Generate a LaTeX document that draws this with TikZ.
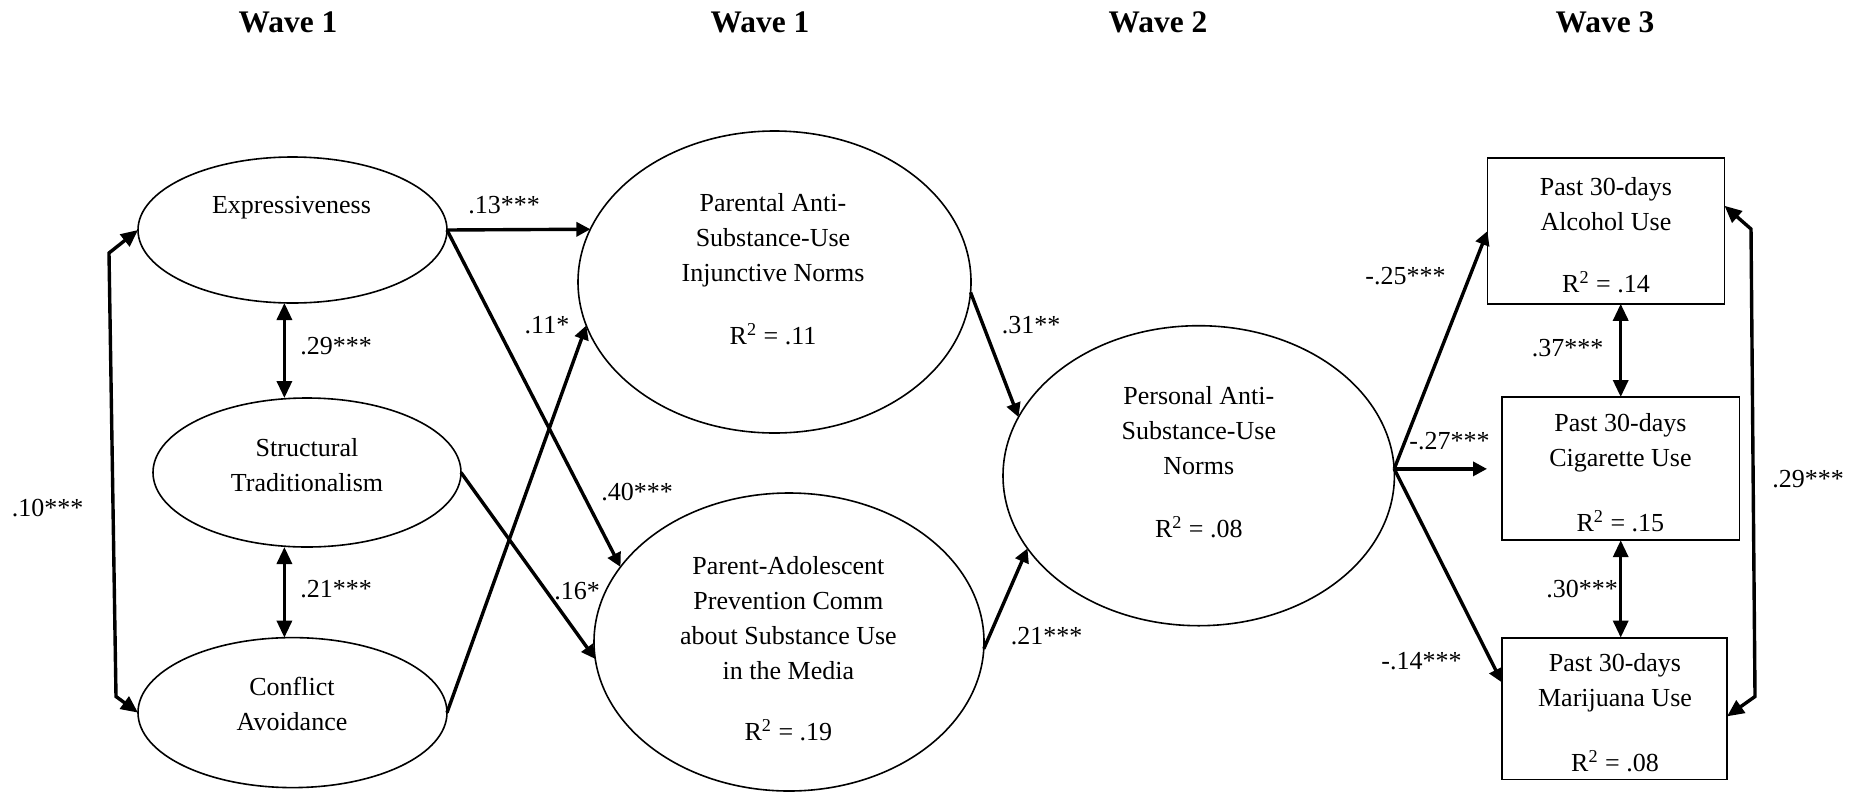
\documentclass[tikz,border=0pt]{standalone}
\usepackage{fontspec}
\setmainfont{Liberation Serif}
\usetikzlibrary{arrows.meta,shapes.geometric,calc}
\begin{document}
\begin{tikzpicture}[x=0.5pt,y=-0.5pt,
  lat/.style={draw, ellipse, line width=0.8pt, inner sep=0pt, outer sep=0pt},
  obs/.style={draw, rectangle, line width=0.9pt, inner sep=0pt, outer sep=0pt},
  txt/.style={font=\fontsize{13}{17.5}\selectfont, align=center, inner sep=0pt},
  lab/.style={font=\fontsize{13}{15}\selectfont, inner sep=0pt},
  wave/.style={font=\fontsize{15.7}{18}\selectfont\bfseries, inner sep=0pt},
  path/.style={line width=1.7pt, -{Triangle[length=7pt,width=7pt]}},
  cov/.style={line width=1.7pt, {Triangle[length=8.5pt,width=7.5pt]}-{Triangle[length=8.5pt,width=7.5pt]}}]
\useasboundingbox (0,0) rectangle (1862,793);

% titles
\node[wave] (w1) at (288,22.6) {Wave 1};
\node[wave] (w2) at (760,22.6) {Wave 1};
\node[wave] (w3) at (1158,22.6) {Wave 2};
\node[wave] (w4) at (1605,22.6) {Wave 3};

% latent variables
\node[lat, minimum width=154.5pt, minimum height=73pt] (E) at (292.5,230) {};
\node[lat, minimum width=154pt, minimum height=74.5pt] (S) at (307,472.5) {};
\node[lat, minimum width=154.5pt, minimum height=75pt] (C) at (292.5,712.6) {};
\node[lat, minimum width=196.5pt, minimum height=151pt] (PI) at (774.5,282) {};
\node[lat, minimum width=195pt, minimum height=149pt] (PC) at (789,642) {};
\node[lat, minimum width=195.7pt, minimum height=150pt] (PN) at (1198.7,475.7) {};

% observed variables
\node[obs, minimum width=118.5pt, minimum height=72.8pt] (A) at (1606,231) {};
\node[obs, minimum width=118.7pt, minimum height=71.6pt] (G) at (1620.7,468.6) {};
\node[obs, minimum width=112.5pt, minimum height=70.9pt] (M) at (1614.5,708.5) {};

% texts
\node[txt] (Et) at (291.5,208) {Expressiveness};
\node[txt] (St) at (307,465) {Structural\\Traditionalism};
\node[txt] (Ct) at (292,704) {Conflict\\Avoidance};
\node[txt] (PIt) at (773,240) {Parental Anti-\\Substance-Use\\Injunctive Norms};
\node[txt] (PIr) at (773,334) {R\textsuperscript{2} = .11};
\node[txt] (PCt) at (788.4,618) {Parent-Adolescent\\Prevention Comm\\about Substance Use\\in the Media};
\node[txt] (PCr) at (788.4,730) {R\textsuperscript{2} = .19};
\node[txt] (PNt) at (1198.8,431) {Personal Anti-\\Substance-Use\\Norms};
\node[txt] (PNr) at (1198.8,527) {R\textsuperscript{2} = .08};
\node[txt] (At) at (1606,204) {Past 30-days\\Alcohol Use};
\node[txt] (Ar) at (1606,282) {R\textsuperscript{2} = .14};
\node[txt] (Gt) at (1620.4,443) {Past 30-days\\Cigarette Use};
\node[txt] (Gr) at (1620.4,521) {R\textsuperscript{2} = .15};
\node[txt] (Mt) at (1615,683) {Past 30-days\\Marijuana Use};
\node[txt] (Mr) at (1615,761) {R\textsuperscript{2} = .08};

% helper coordinates
\coordinate (lx) at (284.4,0);
\coordinate (lt) at (109,253);
\coordinate (lb) at (116,696.5);
\coordinate (rt) at (1751,229);
\coordinate (rb) at (1755,696.5);

% covariances, left
\draw[cov] (E.west) -- (lt) -- (lb) -- (C.west);
\draw[cov] (E.south -| lx) -- (S.north -| lx);
\draw[cov] (S.south -| lx) -- (C.north -| lx);

% paths wave 1
\draw[path] (E.east) -- (PI.164.3);
\draw[path] (E.east) -- (PC.156.4);
\draw[path] (S.east) -- (PC.185);
\draw[path] (C.east) -- (PI.193);

% paths to wave 2
\draw[path] (PI.-3.5) -- (PN.162.4);
\draw[path] (PC.-2) -- (PN.203.3);

% paths to wave 3
\draw[path] (PN.2) -- (A.west);
\draw[path] (PN.2) -- ($(PN.2 -| G.west)+(-15,0)$);
\draw[path] (PN.2) -- (M.167.7);

% covariances, right
\draw[cov] (G.north) -- (G.north |- A.south);
\draw[cov] (G.south) -- (G.south |- M.north);
\draw[cov] (A.12.3) -- (rt) -- (rb) -- (M.-4.3);

% labels
\node[lab] (l10) at (47.6,508) {.10***};
\node[lab, anchor=west] (l29a) at (300,346) {.29***};
\node[lab, anchor=west] (l21a) at (300,589) {.21***};
\node[lab] (l13) at (504,205) {.13***};
\node[lab] (l40) at (637,492) {.40***};
\node[lab] (l16) at (577,591) {.16*};
\node[lab] (l11) at (547,325) {.11*};
\node[lab] (l31) at (1031,325) {.31**};
\node[lab] (l21b) at (1046.5,636) {.21***};
\node[lab] (l25) at (1405.5,276) {-.25***};
\node[lab] (l27) at (1449.5,441.5) {-.27***};
\node[lab] (l14) at (1421.5,661) {-.14***};
\node[lab] (l37) at (1567.5,348) {.37***};
\node[lab] (l30) at (1582,588.7) {.30***};
\node[lab] (l29b) at (1808,479) {.29***};
\end{tikzpicture}
\end{document}
